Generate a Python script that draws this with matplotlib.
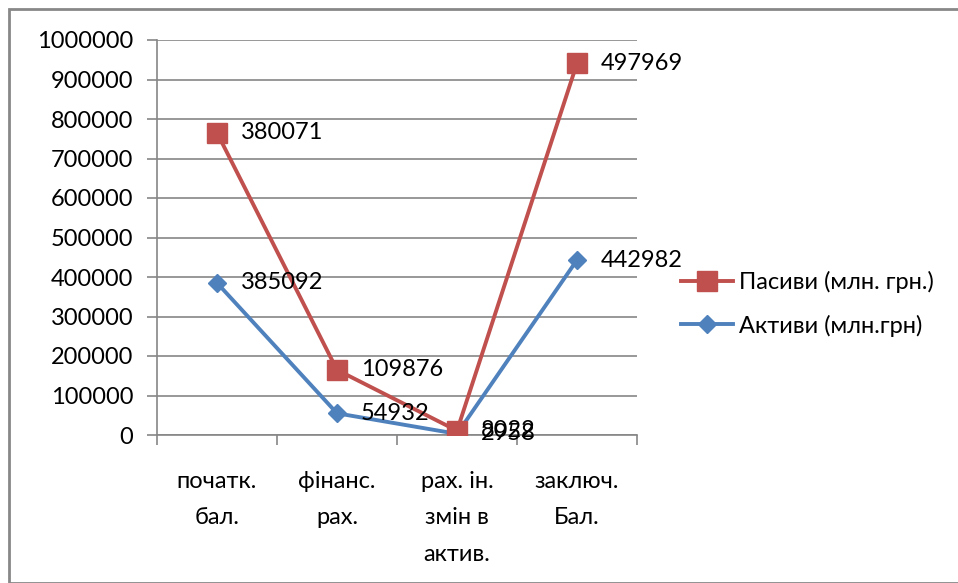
import matplotlib.pyplot as plt
import numpy as np
from matplotlib.patches import Rectangle

plt.rcParams['font.family'] = ['Lato', 'DejaVu Sans']

# Chart data (stacked line chart: Пасиви drawn on top of Активи)
categories = ['початк.\nбал.', 'фінанс.\nрах.', 'рах. ін.\nзмін в\nактив.', 'заключ.\nБал.']
aktyvy = np.array([385092, 54932, 2958, 442982])
pasyvy = np.array([380071, 109876, 8022, 497969])
y_ticks = np.arange(0, 1000001, 100000)

red = '#C0504D'
blue = '#4F81BD'
grid_c = '#868686'
fs = 17

fig = plt.figure(figsize=(9.58, 5.83), dpi=100)
W, H = 958, 583
ax = fig.add_axes([157 / W, (H - 435) / H, 480 / W, 395 / H])

x = np.arange(len(categories))
stacked = aktyvy + pasyvy

ax.plot(x, aktyvy, color=blue, lw=2.8, marker='D', ms=9, zorder=3,
        label='Активи (млн.грн)')
ax.plot(x, stacked, color=red, lw=2.8, marker='s', ms=14, zorder=4,
        label='Пасиви (млн. грн.)')

for xi, yv, lab in zip(x, aktyvy, aktyvy):
    ax.annotate(str(lab), (xi, yv), xytext=(17, 0), textcoords='offset points',
                va='center', ha='left', fontsize=fs, zorder=5)
for xi, yv, lab in zip(x, stacked, pasyvy):
    ax.annotate(str(lab), (xi, yv), xytext=(17, 0), textcoords='offset points',
                va='center', ha='left', fontsize=fs, zorder=5)

ax.set_xlim(-0.5, len(categories) - 0.5)
ax.set_ylim(0, 1000000)
ax.set_yticks(y_ticks)
ax.set_yticklabels([str(v) for v in y_ticks], fontsize=fs)
ax.yaxis.grid(True, color=grid_c, lw=1.2)
ax.set_axisbelow(True)

ax.set_xticks(x)
ax.set_xticklabels(categories, fontsize=fs, linespacing=1.9)
ax.set_xticks(np.arange(-0.5, len(categories)), minor=True)
ax.tick_params(axis='x', which='major', length=0, pad=26)
ax.tick_params(axis='x', which='minor', length=7, color=grid_c, width=1.2)
ax.tick_params(axis='y', length=7, color=grid_c, width=1.2, pad=10)

for s in ['top', 'right']:
    ax.spines[s].set_visible(False)
for s in ['left', 'bottom']:
    ax.spines[s].set_color(grid_c)
    ax.spines[s].set_linewidth(1.2)

handles, labels = ax.get_legend_handles_labels()
leg = fig.legend(handles[::-1], labels[::-1], loc='upper left',
                 bbox_to_anchor=(660 / W, 1 - 250 / H), frameon=False,
                 fontsize=fs, handlelength=2.2, handletextpad=0.25,
                 labelspacing=0.9)

fig.patches.append(Rectangle((9 / W, 0), 1, 1 - 9 / H, transform=fig.transFigure,
                             fill=False, edgecolor='#888888', lw=2))

fig.savefig('out.png', dpi=100)
